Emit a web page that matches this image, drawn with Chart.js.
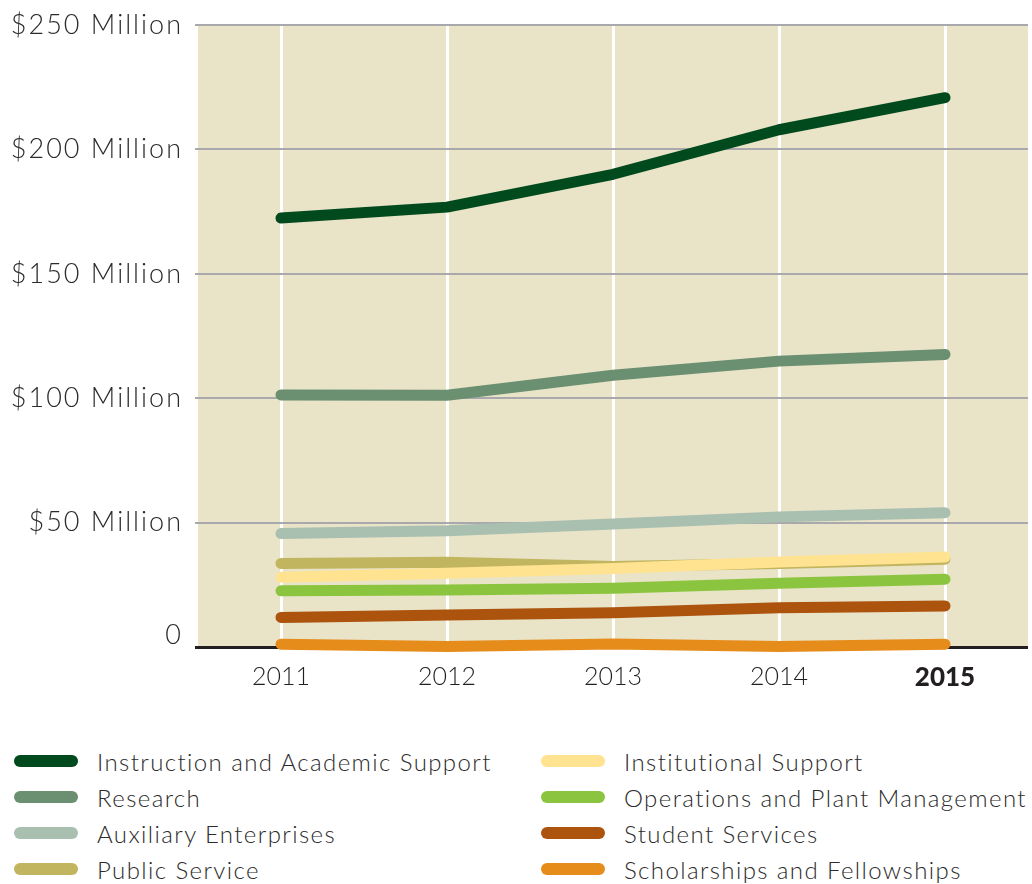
<!DOCTYPE html>
<html>
<head>
<meta charset="utf-8">
<script src="https://cdn.jsdelivr.net/npm/chart.js@4.4.1/dist/chart.umd.min.js"></script>
<style>
  html, body { margin: 0; padding: 0; background: #ffffff; }
  #wrap { position: relative; width: 1032px; height: 884px; overflow: hidden; }
  #chart { position: absolute; left: 0; top: 0; }
  .legend-item { position: absolute; height: 36px; display: flex; align-items: center;
    font-family: Lato, "Open Sans", sans-serif; font-weight: 300; font-size: 24px; letter-spacing: 1.4px;
    color: #2b2b2b; white-space: nowrap; }
  .legend-item .sw { width: 64px; height: 12px; border-radius: 6px; margin-right: 19px; flex: none; }
</style>
</head>
<body>
<div id="wrap">
  <canvas id="chart" width="1032" height="720"></canvas>
  <div id="legend"></div>
</div>
<script>
// Fiscal years on the x axis
const years = ['2011', '2012', '2013', '2014', '2015'];

// Expenses by function, in millions of dollars
const instruction   = [172.4, 176.8, 190.0, 207.9, 220.8];
const research      = [101.3, 101.2, 109.2, 114.9, 117.6];
const auxiliary     = [45.6, 46.7, 49.4, 52.3, 54.0];
const publicService = [33.6, 34.1, 32.4, 33.6, 35.3];
const institutional = [28.0, 29.6, 31.6, 34.2, 36.2];
const operations    = [22.6, 22.9, 23.6, 25.6, 27.2];
const studentSvc    = [11.9, 12.9, 13.8, 15.8, 16.5];
const scholarships  = [1.1, 0.2, 1.2, 0.2, 1.1];

// Y axis tick values and their labels
const yTicks = [0, 50, 100, 150, 200, 250];
const yTickLabels = ['0', '$50 Million', '$100 Million', '$150 Million', '$200 Million', '$250 Million'];

const seriesNames = [
  'Instruction and Academic Support', 'Research', 'Auxiliary Enterprises', 'Public Service',
  'Institutional Support', 'Operations and Plant Management', 'Student Services', 'Scholarships and Fellowships'
];
const seriesValues = [instruction, research, auxiliary, publicService, institutional, operations, studentSvc, scholarships];
const seriesColors = ['#004a1d', '#6a8f71', '#a9bfb0', '#c1b55f', '#ffe391', '#8bc53f', '#ac530e', '#e68c1a'];

const FONT = 'Lato, "Open Sans", sans-serif';
const TEXT = '#2b2b2b';

// Beige plot fill behind the grid
const plotBackground = {
  id: 'plotBackground',
  beforeDraw(chart) {
    const { ctx, chartArea: a } = chart;
    ctx.save();
    ctx.letterSpacing = '0px';
    ctx.fillStyle = '#e9e3c8';
    ctx.fillRect(a.left, a.top, a.right - a.left, a.bottom - a.top);
    ctx.restore();
  }
};

// The y tick labels are drawn on a later layer (z = 1) with wider tracking
const axisTracking = {
  id: 'axisTracking',
  afterDatasetsDraw(chart) { chart.ctx.letterSpacing = '2px'; },
  afterDraw(chart) { chart.ctx.letterSpacing = '0px'; }
};

const datasets = seriesNames.map((name, i) => ({
  label: name,
  data: seriesValues[i],
  borderColor: seriesColors[i],
  backgroundColor: seriesColors[i],
  borderWidth: 11,
  borderCapStyle: 'round',
  borderJoinStyle: 'round',
  pointRadius: 0,
  pointHoverRadius: 0,
  tension: 0,
  fill: false,
  clip: false,
  // Public Service sits beneath Institutional Support
  order: name === 'Public Service' ? 1 : 0
}));

new Chart(document.getElementById('chart'), {
  type: 'line',
  data: { labels: years, datasets },
  plugins: [plotBackground, axisTracking],
  options: {
    responsive: false,
    animation: false,
    layout: { padding: { top: 25, right: 4, left: 0, bottom: 0 } },
    plugins: { legend: { display: false }, tooltip: { enabled: false } },
    scales: {
      x: {
        offset: true,
        grid: { offset: false, color: '#ffffff', lineWidth: 3, drawTicks: false },
        border: { display: false },
        ticks: {
          padding: 15,
          color: '#231f20',
          font: (ctx) => ctx.index === years.length - 1
            ? { family: FONT, size: 26, weight: '900' }
            : { family: FONT, size: 25, weight: '300' }
        },
        afterFit(scale) { scale.height = 73; }
      },
      y: {
        min: 0,
        max: 250,
        afterBuildTicks(scale) { scale.ticks = yTicks.map(v => ({ value: v })); },
        grid: {
          color: (ctx) => ctx.tick && ctx.tick.value === 0 ? '#231f20' : '#a9a9ad',
          lineWidth: (ctx) => ctx.tick && ctx.tick.value === 0 ? 3 : 2,
          tickLength: 3,
          drawTicks: true
        },
        border: { display: false },
        ticks: {
          z: 1,
          padding: 12,
          color: TEXT,
          font: { family: FONT, size: 27, weight: '300', lineHeight: 0.9 },
          callback(value) {
            const label = yTickLabels[yTicks.indexOf(value)];
            return value === 0 ? [label, ''] : label;
          }
        },
        afterFit(scale) { scale.width = 198; }
      }
    }
  }
});

// Two-column legend, filled down each column
const legend = document.getElementById('legend');
const colX = [14, 541];
const rowY = [743, 779, 815, 851];
seriesNames.forEach((name, i) => {
  const item = document.createElement('div');
  item.className = 'legend-item';
  item.style.left = colX[Math.floor(i / 4)] + 'px';
  item.style.top = rowY[i % 4] + 'px';
  const sw = document.createElement('span');
  sw.className = 'sw';
  sw.style.background = seriesColors[i];
  const txt = document.createElement('span');
  txt.textContent = name;
  item.appendChild(sw);
  item.appendChild(txt);
  legend.appendChild(item);
});
</script>
</body>
</html>
